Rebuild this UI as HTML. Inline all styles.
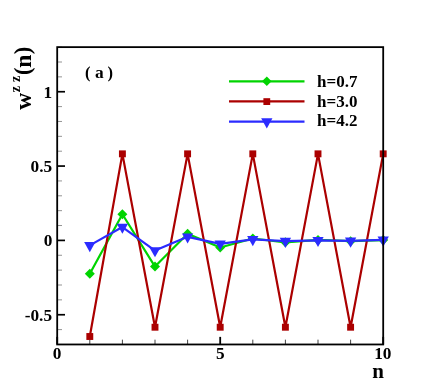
<!DOCTYPE html>
<html><head><meta charset="utf-8"><title>chart</title>
<style>html,body{margin:0;padding:0;background:#fff;overflow:hidden;font-family:"Liberation Serif",serif;}svg text{font-family:"Liberation Serif",serif;}</style></head>
<body>
<svg width="436" height="388" viewBox="0 0 436 388" style="display:block;position:absolute;left:0;top:0;will-change:transform">
<rect width="436" height="388" fill="#fff"/>
<line x1="57.2" y1="344.47" x2="62.0" y2="344.47" stroke="#666" stroke-width="0.7"/>
<line x1="57.2" y1="329.60" x2="62.0" y2="329.60" stroke="#666" stroke-width="0.7"/>
<line x1="57.2" y1="314.74" x2="65.0" y2="314.74" stroke="#000" stroke-width="1.7"/>
<line x1="57.2" y1="299.87" x2="62.0" y2="299.87" stroke="#666" stroke-width="0.7"/>
<line x1="57.2" y1="285.00" x2="62.0" y2="285.00" stroke="#666" stroke-width="0.7"/>
<line x1="57.2" y1="270.13" x2="62.0" y2="270.13" stroke="#666" stroke-width="0.7"/>
<line x1="57.2" y1="255.27" x2="62.0" y2="255.27" stroke="#666" stroke-width="0.7"/>
<line x1="57.2" y1="240.40" x2="65.0" y2="240.40" stroke="#000" stroke-width="1.7"/>
<line x1="57.2" y1="225.53" x2="62.0" y2="225.53" stroke="#666" stroke-width="0.7"/>
<line x1="57.2" y1="210.67" x2="62.0" y2="210.67" stroke="#666" stroke-width="0.7"/>
<line x1="57.2" y1="195.80" x2="62.0" y2="195.80" stroke="#666" stroke-width="0.7"/>
<line x1="57.2" y1="180.93" x2="62.0" y2="180.93" stroke="#666" stroke-width="0.7"/>
<line x1="57.2" y1="166.06" x2="65.0" y2="166.06" stroke="#000" stroke-width="1.7"/>
<line x1="57.2" y1="151.20" x2="62.0" y2="151.20" stroke="#666" stroke-width="0.7"/>
<line x1="57.2" y1="136.33" x2="62.0" y2="136.33" stroke="#666" stroke-width="0.7"/>
<line x1="57.2" y1="121.46" x2="62.0" y2="121.46" stroke="#666" stroke-width="0.7"/>
<line x1="57.2" y1="106.60" x2="62.0" y2="106.60" stroke="#666" stroke-width="0.7"/>
<line x1="57.2" y1="91.73" x2="65.0" y2="91.73" stroke="#000" stroke-width="1.7"/>
<line x1="57.2" y1="76.86" x2="62.0" y2="76.86" stroke="#666" stroke-width="0.7"/>
<line x1="57.2" y1="62.00" x2="62.0" y2="62.00" stroke="#666" stroke-width="0.7"/>
<line x1="57.2" y1="47.13" x2="62.0" y2="47.13" stroke="#666" stroke-width="0.7"/>
<line x1="57.20" y1="344.47" x2="57.20" y2="336.87" stroke="#000" stroke-width="1.8"/>
<line x1="89.80" y1="344.47" x2="89.80" y2="339.67" stroke="#222" stroke-width="0.85"/>
<line x1="122.40" y1="344.47" x2="122.40" y2="339.67" stroke="#222" stroke-width="0.85"/>
<line x1="155.00" y1="344.47" x2="155.00" y2="339.67" stroke="#222" stroke-width="0.85"/>
<line x1="187.60" y1="344.47" x2="187.60" y2="339.67" stroke="#222" stroke-width="0.85"/>
<line x1="220.20" y1="344.47" x2="220.20" y2="336.87" stroke="#000" stroke-width="1.8"/>
<line x1="252.80" y1="344.47" x2="252.80" y2="339.67" stroke="#222" stroke-width="0.85"/>
<line x1="285.40" y1="344.47" x2="285.40" y2="339.67" stroke="#222" stroke-width="0.85"/>
<line x1="318.00" y1="344.47" x2="318.00" y2="339.67" stroke="#222" stroke-width="0.85"/>
<line x1="350.60" y1="344.47" x2="350.60" y2="339.67" stroke="#222" stroke-width="0.85"/>
<line x1="383.20" y1="344.47" x2="383.20" y2="336.87" stroke="#000" stroke-width="1.8"/>
<polyline points="89.80,273.70 122.40,214.23 155.00,266.57 187.60,233.78 220.20,247.54 252.80,238.50 285.40,242.33 318.00,239.95 350.60,241.14 383.20,240.10" fill="none" stroke="#00d400" stroke-width="2.2" stroke-linejoin="round"/>
<path d="M84.80,273.70 L89.80,268.70 L94.80,273.70 L89.80,278.70Z" fill="#00d400"/>
<path d="M117.40,214.23 L122.40,209.23 L127.40,214.23 L122.40,219.23Z" fill="#00d400"/>
<path d="M150.00,266.57 L155.00,261.57 L160.00,266.57 L155.00,271.57Z" fill="#00d400"/>
<path d="M182.60,233.78 L187.60,228.78 L192.60,233.78 L187.60,238.78Z" fill="#00d400"/>
<path d="M215.20,247.54 L220.20,242.54 L225.20,247.54 L220.20,252.54Z" fill="#00d400"/>
<path d="M247.80,238.50 L252.80,233.50 L257.80,238.50 L252.80,243.50Z" fill="#00d400"/>
<path d="M280.40,242.33 L285.40,237.33 L290.40,242.33 L285.40,247.33Z" fill="#00d400"/>
<path d="M313.00,239.95 L318.00,234.95 L323.00,239.95 L318.00,244.95Z" fill="#00d400"/>
<path d="M345.60,241.14 L350.60,236.14 L355.60,241.14 L350.60,246.14Z" fill="#00d400"/>
<path d="M378.20,240.10 L383.20,235.10 L388.20,240.10 L383.20,245.10Z" fill="#00d400"/>
<polyline points="89.80,336.50 122.40,153.84 155.00,327.22 187.60,153.84 220.20,327.22 252.80,153.84 285.40,327.22 318.00,153.84 350.60,327.22 383.20,153.84" fill="none" stroke="#ab0000" stroke-width="2.2" stroke-linejoin="miter"/>
<rect x="86.35" y="333.05" width="6.9" height="6.9" fill="#ab0000"/>
<rect x="118.95" y="150.39" width="6.9" height="6.9" fill="#ab0000"/>
<rect x="151.55" y="323.77" width="6.9" height="6.9" fill="#ab0000"/>
<rect x="184.15" y="150.39" width="6.9" height="6.9" fill="#ab0000"/>
<rect x="216.75" y="323.77" width="6.9" height="6.9" fill="#ab0000"/>
<rect x="249.35" y="150.39" width="6.9" height="6.9" fill="#ab0000"/>
<rect x="281.95" y="323.77" width="6.9" height="6.9" fill="#ab0000"/>
<rect x="314.55" y="150.39" width="6.9" height="6.9" fill="#ab0000"/>
<rect x="347.15" y="323.77" width="6.9" height="6.9" fill="#ab0000"/>
<rect x="379.75" y="150.39" width="6.9" height="6.9" fill="#ab0000"/>
<polyline points="89.80,245.40 122.40,227.02 155.00,250.60 187.60,236.83 220.20,243.82 252.80,239.43 285.40,241.14 318.00,240.30 350.60,240.92 383.20,239.95" fill="none" stroke="#2b2bff" stroke-width="2.2" stroke-linejoin="round"/>
<path d="M84.15,242.03 L95.45,242.03 L89.80,252.13Z" fill="#2b2bff"/>
<path d="M116.75,223.65 L128.05,223.65 L122.40,233.75Z" fill="#2b2bff"/>
<path d="M149.35,247.23 L160.65,247.23 L155.00,257.33Z" fill="#2b2bff"/>
<path d="M181.95,233.47 L193.25,233.47 L187.60,243.57Z" fill="#2b2bff"/>
<path d="M214.55,240.45 L225.85,240.45 L220.20,250.55Z" fill="#2b2bff"/>
<path d="M247.15,236.07 L258.45,236.07 L252.80,246.17Z" fill="#2b2bff"/>
<path d="M279.75,237.78 L291.05,237.78 L285.40,247.88Z" fill="#2b2bff"/>
<path d="M312.35,236.93 L323.65,236.93 L318.00,247.03Z" fill="#2b2bff"/>
<path d="M344.95,237.55 L356.25,237.55 L350.60,247.65Z" fill="#2b2bff"/>
<path d="M377.55,236.59 L388.85,236.59 L383.20,246.69Z" fill="#2b2bff"/>
<rect x="57.2" y="47.13" width="326.00" height="297.34" fill="none" stroke="#000" stroke-width="1.8"/>
<line x1="229" y1="81.3" x2="304.5" y2="81.3" stroke="#00d400" stroke-width="2.2"/>
<path d="M262.00,81.30 L266.80,76.50 L271.60,81.30 L266.80,86.10Z" fill="#00d400"/>
<line x1="229" y1="101.4" x2="304.5" y2="101.4" stroke="#ab0000" stroke-width="2.2"/>
<rect x="263.40" y="98.20" width="6.8" height="6.8" fill="#ab0000"/>
<line x1="229" y1="121.65" x2="304.5" y2="121.65" stroke="#2b2bff" stroke-width="2.2"/>
<path d="M261.15,118.28 L272.45,118.28 L266.80,128.38Z" fill="#2b2bff"/>
<g style="filter:grayscale(1)">
<text x="317.03" y="86.55" font-size="17" font-family="Liberation Serif, serif" font-weight="bold" fill="#000" xml:space="preserve">h=0.7</text>
<text x="317.06" y="106.70" font-size="17" font-family="Liberation Serif, serif" font-weight="bold" fill="#000" xml:space="preserve">h=3.0</text>
<text x="317.06" y="126.40" font-size="17" font-family="Liberation Serif, serif" font-weight="bold" fill="#000" xml:space="preserve">h=4.2</text>
<text x="84.88" y="77.64" font-size="16.5" font-family="Liberation Serif, serif" font-weight="bold" fill="#000" xml:space="preserve">(</text>
<text x="95.00" y="77.60" font-size="17.4" font-family="Liberation Serif, serif" font-weight="bold" fill="#000" xml:space="preserve">a</text>
<text x="107.62" y="77.64" font-size="16.5" font-family="Liberation Serif, serif" font-weight="bold" fill="#000" xml:space="preserve">)</text>
<text x="43.62" y="97.55" font-size="17.3" font-family="Liberation Serif, serif" font-weight="bold" fill="#000" xml:space="preserve">1</text>
<text x="30.54" y="171.58" font-size="17.3" font-family="Liberation Serif, serif" font-weight="bold" fill="#000" xml:space="preserve">0.5</text>
<text x="43.68" y="246.11" font-size="17.3" font-family="Liberation Serif, serif" font-weight="bold" fill="#000" xml:space="preserve">0</text>
<text x="24.71" y="320.70" font-size="17.3" font-family="Liberation Serif, serif" font-weight="bold" fill="#000" xml:space="preserve">-0.5</text>
<text x="52.68" y="359.46" font-size="17.3" font-family="Liberation Serif, serif" font-weight="bold" fill="#000" xml:space="preserve">0</text>
<text x="215.90" y="359.45" font-size="17.3" font-family="Liberation Serif, serif" font-weight="bold" fill="#000" xml:space="preserve">5</text>
<text x="374.22" y="359.46" font-size="17.3" font-family="Liberation Serif, serif" font-weight="bold" fill="#000" xml:space="preserve">10</text>
<text x="372.34" y="377.62" font-size="21" font-family="Liberation Serif, serif" font-weight="bold" fill="#000" xml:space="preserve">n</text>
<text transform="translate(30.75,109.86) rotate(-90)" font-size="23.5" font-family="Liberation Serif, serif" font-weight="bold" fill="#000" xml:space="preserve">w</text>
<text transform="translate(19.80,92.14) rotate(-90)" font-size="14" font-family="Liberation Serif, serif" font-weight="bold" fill="#000" xml:space="preserve">z</text>
<text transform="translate(19.80,82.12) rotate(-90)" font-size="14" font-family="Liberation Serif, serif" font-weight="bold" fill="#000" xml:space="preserve">z</text>
<text transform="translate(30.38,75.12) rotate(-90)" font-size="22.5" font-family="Liberation Serif, serif" font-weight="bold" fill="#000" xml:space="preserve">(</text>
<text transform="translate(31.00,67.75) rotate(-90)" font-size="23.5" font-family="Liberation Serif, serif" font-weight="bold" fill="#000" xml:space="preserve">n</text>
<text transform="translate(30.38,54.23) rotate(-90)" font-size="22.5" font-family="Liberation Serif, serif" font-weight="bold" fill="#000" xml:space="preserve">)</text>
</g>
</svg>
</body></html>
